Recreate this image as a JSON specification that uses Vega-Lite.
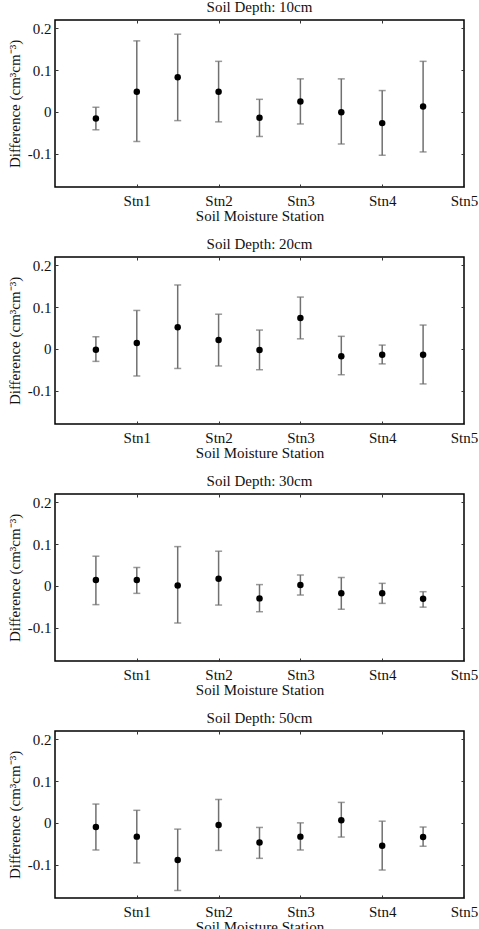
{
  "$schema": "https://vega.github.io/schema/vega-lite/v6.json",
  "background": "white",
  "padding": {"left": 6, "top": -2, "right": 0, "bottom": 0},
  "spacing": 11,
  "data": {
    "values": [
      {"depth": "10cm", "pos": 0.5, "mean": -0.016, "lo": -0.043, "hi": 0.011},
      {"depth": "10cm", "pos": 1.0, "mean": 0.048, "lo": -0.071, "hi": 0.170},
      {"depth": "10cm", "pos": 1.5, "mean": 0.083, "lo": -0.021, "hi": 0.186},
      {"depth": "10cm", "pos": 2.0, "mean": 0.048, "lo": -0.024, "hi": 0.121},
      {"depth": "10cm", "pos": 2.5, "mean": -0.014, "lo": -0.059, "hi": 0.030},
      {"depth": "10cm", "pos": 3.0, "mean": 0.025, "lo": -0.029, "hi": 0.079},
      {"depth": "10cm", "pos": 3.5, "mean": -0.001, "lo": -0.077, "hi": 0.079},
      {"depth": "10cm", "pos": 4.0, "mean": -0.027, "lo": -0.104, "hi": 0.051},
      {"depth": "10cm", "pos": 4.5, "mean": 0.013, "lo": -0.096, "hi": 0.121},
      {"depth": "20cm", "pos": 0.5, "mean": -0.002, "lo": -0.030, "hi": 0.029},
      {"depth": "20cm", "pos": 1.0, "mean": 0.014, "lo": -0.065, "hi": 0.092},
      {"depth": "20cm", "pos": 1.5, "mean": 0.052, "lo": -0.047, "hi": 0.153},
      {"depth": "20cm", "pos": 2.0, "mean": 0.021, "lo": -0.041, "hi": 0.083},
      {"depth": "20cm", "pos": 2.5, "mean": -0.003, "lo": -0.050, "hi": 0.045},
      {"depth": "20cm", "pos": 3.0, "mean": 0.074, "lo": 0.024, "hi": 0.124},
      {"depth": "20cm", "pos": 3.5, "mean": -0.018, "lo": -0.062, "hi": 0.030},
      {"depth": "20cm", "pos": 4.0, "mean": -0.014, "lo": -0.036, "hi": 0.009},
      {"depth": "20cm", "pos": 4.5, "mean": -0.014, "lo": -0.084, "hi": 0.057},
      {"depth": "30cm", "pos": 0.5, "mean": 0.014, "lo": -0.045, "hi": 0.071},
      {"depth": "30cm", "pos": 1.0, "mean": 0.014, "lo": -0.018, "hi": 0.044},
      {"depth": "30cm", "pos": 1.5, "mean": 0.001, "lo": -0.089, "hi": 0.094},
      {"depth": "30cm", "pos": 2.0, "mean": 0.017, "lo": -0.046, "hi": 0.083},
      {"depth": "30cm", "pos": 2.5, "mean": -0.030, "lo": -0.062, "hi": 0.003},
      {"depth": "30cm", "pos": 3.0, "mean": 0.002, "lo": -0.022, "hi": 0.026},
      {"depth": "30cm", "pos": 3.5, "mean": -0.018, "lo": -0.056, "hi": 0.020},
      {"depth": "30cm", "pos": 4.0, "mean": -0.018, "lo": -0.042, "hi": 0.006},
      {"depth": "30cm", "pos": 4.5, "mean": -0.031, "lo": -0.051, "hi": -0.014},
      {"depth": "50cm", "pos": 0.5, "mean": -0.010, "lo": -0.065, "hi": 0.045},
      {"depth": "50cm", "pos": 1.0, "mean": -0.033, "lo": -0.096, "hi": 0.030},
      {"depth": "50cm", "pos": 1.5, "mean": -0.089, "lo": -0.162, "hi": -0.015},
      {"depth": "50cm", "pos": 2.0, "mean": -0.005, "lo": -0.066, "hi": 0.056},
      {"depth": "50cm", "pos": 2.5, "mean": -0.047, "lo": -0.085, "hi": -0.011},
      {"depth": "50cm", "pos": 3.0, "mean": -0.033, "lo": -0.065, "hi": 0.000},
      {"depth": "50cm", "pos": 3.5, "mean": 0.006, "lo": -0.034, "hi": 0.049},
      {"depth": "50cm", "pos": 4.0, "mean": -0.055, "lo": -0.113, "hi": 0.004},
      {"depth": "50cm", "pos": 4.5, "mean": -0.034, "lo": -0.056, "hi": -0.010}
    ]
  },
  "config": {
    "font": "Liberation Serif, Times New Roman, serif",
    "view": {"stroke": "#000000", "strokeWidth": 1.5},
    "axis": {"grid": false, "domain": false, "labelFont": "Liberation Serif, Times New Roman, serif", "titleFont": "Liberation Serif, Times New Roman, serif", "labelFontSize": 15, "titleFontSize": 15, "titleFontWeight": "normal", "labelColor": "#111", "titleColor": "#111", "tickColor": "#333", "tickWidth": 1},
    "title": {"font": "Liberation Serif, Times New Roman, serif", "fontSize": 15, "fontWeight": "normal", "color": "#111", "offset": 5}
  },
  "vconcat": [
    {
      "title": "Soil Depth: 10cm",
      "width": 409, "height": 167,
      "transform": [{"filter": "datum.depth === '10cm'"}],
      "resolve": {"axis": {"x": "independent", "y": "independent"}},
      "layer": [
        {"mark": {"type": "rule", "color": "#707070", "strokeWidth": 1.5},
         "encoding": {
           "x": {"field": "pos", "type": "quantitative", "scale": {"domain": [0, 5], "nice": false, "zero": false},
                 "axis": {"orient": "bottom", "values": [1, 2, 3, 4, 5], "labelExpr": "'Stn' + datum.value", "tickSize": -3, "labelPadding": 9, "title": "Soil Moisture Station", "titlePadding": 0, "labelAlign": "center"}},
           "y": {"field": "lo", "type": "quantitative", "scale": {"domain": [-0.18, 0.22], "nice": false, "zero": false},
                 "axis": {"orient": "left", "values": [-0.1, 0, 0.1, 0.2], "labelExpr": "datum.value == 0 ? '0' : (datum.value < 0 ? '-' + format(-datum.value, '.1f') : format(datum.value, '.1f'))", "tickSize": -3, "labelPadding": 7, "title": "Difference (cm³cm⁻³)", "titlePadding": 5}},
           "y2": {"field": "hi"}}},
        {"mark": {"type": "tick", "orient": "horizontal", "color": "#707070", "size": 7, "thickness": 1.5},
         "encoding": {
           "x": {"field": "pos", "type": "quantitative", "axis": {"orient": "top", "values": [1, 2, 3, 4], "labels": false, "tickSize": -3, "title": null}},
           "y": {"field": "lo", "type": "quantitative", "axis": {"orient": "right", "values": [-0.1, 0, 0.1, 0.2], "labels": false, "tickSize": -3, "title": null}}}},
        {"mark": {"type": "tick", "orient": "horizontal", "color": "#707070", "size": 7, "thickness": 1.5},
         "encoding": {
           "x": {"field": "pos", "type": "quantitative", "axis": null},
           "y": {"field": "hi", "type": "quantitative", "axis": null}}},
        {"mark": {"type": "point", "shape": "circle", "filled": true, "color": "#000000", "size": 42, "opacity": 1},
         "encoding": {
           "x": {"field": "pos", "type": "quantitative", "axis": null},
           "y": {"field": "mean", "type": "quantitative", "axis": null}}}
      ]
    },
    {
      "title": "Soil Depth: 20cm",
      "width": 409, "height": 167,
      "transform": [{"filter": "datum.depth === '20cm'"}],
      "resolve": {"axis": {"x": "independent", "y": "independent"}},
      "layer": [
        {"mark": {"type": "rule", "color": "#707070", "strokeWidth": 1.5},
         "encoding": {
           "x": {"field": "pos", "type": "quantitative", "scale": {"domain": [0, 5], "nice": false, "zero": false},
                 "axis": {"orient": "bottom", "values": [1, 2, 3, 4, 5], "labelExpr": "'Stn' + datum.value", "tickSize": -3, "labelPadding": 9, "title": "Soil Moisture Station", "titlePadding": 0, "labelAlign": "center"}},
           "y": {"field": "lo", "type": "quantitative", "scale": {"domain": [-0.18, 0.22], "nice": false, "zero": false},
                 "axis": {"orient": "left", "values": [-0.1, 0, 0.1, 0.2], "labelExpr": "datum.value == 0 ? '0' : (datum.value < 0 ? '-' + format(-datum.value, '.1f') : format(datum.value, '.1f'))", "tickSize": -3, "labelPadding": 7, "title": "Difference (cm³cm⁻³)", "titlePadding": 5}},
           "y2": {"field": "hi"}}},
        {"mark": {"type": "tick", "orient": "horizontal", "color": "#707070", "size": 7, "thickness": 1.5},
         "encoding": {
           "x": {"field": "pos", "type": "quantitative", "axis": {"orient": "top", "values": [1, 2, 3, 4], "labels": false, "tickSize": -3, "title": null}},
           "y": {"field": "lo", "type": "quantitative", "axis": {"orient": "right", "values": [-0.1, 0, 0.1, 0.2], "labels": false, "tickSize": -3, "title": null}}}},
        {"mark": {"type": "tick", "orient": "horizontal", "color": "#707070", "size": 7, "thickness": 1.5},
         "encoding": {
           "x": {"field": "pos", "type": "quantitative", "axis": null},
           "y": {"field": "hi", "type": "quantitative", "axis": null}}},
        {"mark": {"type": "point", "shape": "circle", "filled": true, "color": "#000000", "size": 42, "opacity": 1},
         "encoding": {
           "x": {"field": "pos", "type": "quantitative", "axis": null},
           "y": {"field": "mean", "type": "quantitative", "axis": null}}}
      ]
    },
    {
      "title": "Soil Depth: 30cm",
      "width": 409, "height": 167,
      "transform": [{"filter": "datum.depth === '30cm'"}],
      "resolve": {"axis": {"x": "independent", "y": "independent"}},
      "layer": [
        {"mark": {"type": "rule", "color": "#707070", "strokeWidth": 1.5},
         "encoding": {
           "x": {"field": "pos", "type": "quantitative", "scale": {"domain": [0, 5], "nice": false, "zero": false},
                 "axis": {"orient": "bottom", "values": [1, 2, 3, 4, 5], "labelExpr": "'Stn' + datum.value", "tickSize": -3, "labelPadding": 9, "title": "Soil Moisture Station", "titlePadding": 0, "labelAlign": "center"}},
           "y": {"field": "lo", "type": "quantitative", "scale": {"domain": [-0.18, 0.22], "nice": false, "zero": false},
                 "axis": {"orient": "left", "values": [-0.1, 0, 0.1, 0.2], "labelExpr": "datum.value == 0 ? '0' : (datum.value < 0 ? '-' + format(-datum.value, '.1f') : format(datum.value, '.1f'))", "tickSize": -3, "labelPadding": 7, "title": "Difference (cm³cm⁻³)", "titlePadding": 5}},
           "y2": {"field": "hi"}}},
        {"mark": {"type": "tick", "orient": "horizontal", "color": "#707070", "size": 7, "thickness": 1.5},
         "encoding": {
           "x": {"field": "pos", "type": "quantitative", "axis": {"orient": "top", "values": [1, 2, 3, 4], "labels": false, "tickSize": -3, "title": null}},
           "y": {"field": "lo", "type": "quantitative", "axis": {"orient": "right", "values": [-0.1, 0, 0.1, 0.2], "labels": false, "tickSize": -3, "title": null}}}},
        {"mark": {"type": "tick", "orient": "horizontal", "color": "#707070", "size": 7, "thickness": 1.5},
         "encoding": {
           "x": {"field": "pos", "type": "quantitative", "axis": null},
           "y": {"field": "hi", "type": "quantitative", "axis": null}}},
        {"mark": {"type": "point", "shape": "circle", "filled": true, "color": "#000000", "size": 42, "opacity": 1},
         "encoding": {
           "x": {"field": "pos", "type": "quantitative", "axis": null},
           "y": {"field": "mean", "type": "quantitative", "axis": null}}}
      ]
    },
    {
      "title": "Soil Depth: 50cm",
      "width": 409, "height": 167,
      "transform": [{"filter": "datum.depth === '50cm'"}],
      "resolve": {"axis": {"x": "independent", "y": "independent"}},
      "layer": [
        {"mark": {"type": "rule", "color": "#707070", "strokeWidth": 1.5},
         "encoding": {
           "x": {"field": "pos", "type": "quantitative", "scale": {"domain": [0, 5], "nice": false, "zero": false},
                 "axis": {"orient": "bottom", "values": [1, 2, 3, 4, 5], "labelExpr": "'Stn' + datum.value", "tickSize": -3, "labelPadding": 9, "title": "Soil Moisture Station", "titlePadding": 0, "labelAlign": "center"}},
           "y": {"field": "lo", "type": "quantitative", "scale": {"domain": [-0.18, 0.22], "nice": false, "zero": false},
                 "axis": {"orient": "left", "values": [-0.1, 0, 0.1, 0.2], "labelExpr": "datum.value == 0 ? '0' : (datum.value < 0 ? '-' + format(-datum.value, '.1f') : format(datum.value, '.1f'))", "tickSize": -3, "labelPadding": 7, "title": "Difference (cm³cm⁻³)", "titlePadding": 5}},
           "y2": {"field": "hi"}}},
        {"mark": {"type": "tick", "orient": "horizontal", "color": "#707070", "size": 7, "thickness": 1.5},
         "encoding": {
           "x": {"field": "pos", "type": "quantitative", "axis": {"orient": "top", "values": [1, 2, 3, 4], "labels": false, "tickSize": -3, "title": null}},
           "y": {"field": "lo", "type": "quantitative", "axis": {"orient": "right", "values": [-0.1, 0, 0.1, 0.2], "labels": false, "tickSize": -3, "title": null}}}},
        {"mark": {"type": "tick", "orient": "horizontal", "color": "#707070", "size": 7, "thickness": 1.5},
         "encoding": {
           "x": {"field": "pos", "type": "quantitative", "axis": null},
           "y": {"field": "hi", "type": "quantitative", "axis": null}}},
        {"mark": {"type": "point", "shape": "circle", "filled": true, "color": "#000000", "size": 42, "opacity": 1},
         "encoding": {
           "x": {"field": "pos", "type": "quantitative", "axis": null},
           "y": {"field": "mean", "type": "quantitative", "axis": null}}}
      ]
    }
  ]
}
